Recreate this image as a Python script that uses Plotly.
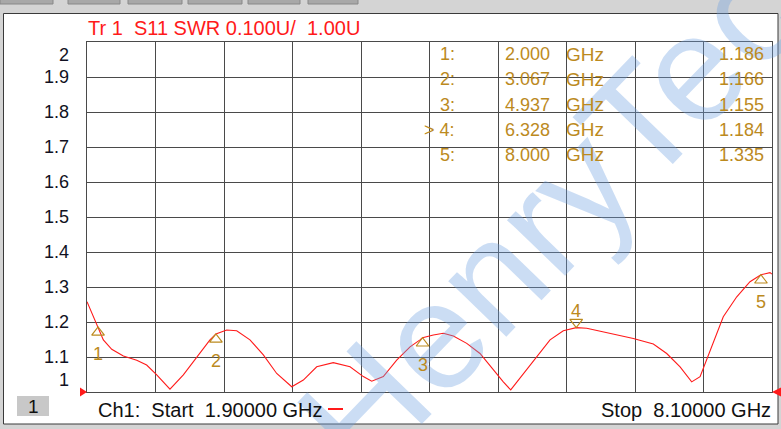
import plotly.graph_objects as go

# ---------------- data ----------------
freq_ghz = [1.900, 2.000, 2.048, 2.124, 2.229, 2.350, 2.440, 2.531, 2.651, 2.772,
            2.893, 3.013, 3.067, 3.164, 3.255, 3.375, 3.496, 3.617, 3.753, 3.858,
            3.979, 4.129, 4.281, 4.401, 4.477, 4.582, 4.703, 4.824, 4.914, 4.937,
            5.035, 5.125, 5.216, 5.337, 5.457, 5.578, 5.668, 5.735, 5.819, 5.970,
            6.091, 6.211, 6.328, 6.423, 6.604, 6.845, 7.026, 7.147, 7.268, 7.373,
            7.449, 7.540, 7.659, 7.781, 7.901, 8.000, 8.082, 8.100]
swr = [1.258, 1.186, 1.149, 1.122, 1.103, 1.091, 1.077, 1.049, 1.008, 1.049,
       1.101, 1.149, 1.166, 1.177, 1.175, 1.149, 1.106, 1.053, 1.015, 1.034,
       1.072, 1.084, 1.072, 1.044, 1.031, 1.044, 1.091, 1.129, 1.149, 1.155,
       1.163, 1.168, 1.160, 1.139, 1.110, 1.063, 1.029, 1.006, 1.039, 1.101,
       1.149, 1.175, 1.184, 1.182, 1.170, 1.153, 1.137, 1.110, 1.072, 1.029,
       1.044, 1.120, 1.215, 1.272, 1.315, 1.335, 1.341, 1.337]

marker_ids = ["1", "2", "3", "4", "5"]
marker_freq = [2.000, 3.067, 4.937, 6.328, 8.000]
marker_swr = [1.186, 1.166, 1.155, 1.184, 1.335]
active_marker = "4"

y_ticks = [1.0, 1.1, 1.2, 1.3, 1.4, 1.5, 1.6, 1.7, 1.8, 1.9, 2.0]
y_tick_labels = ["1", "1.1", "1.2", "1.3", "1.4", "1.5", "1.6", "1.7", "1.8", "1.9", "2"]

f_start, f_stop, n_div = 1.9, 8.1, 10

title_text = "Tr 1  S11 SWR 0.100U/  1.00U"
start_text = "Ch1:  Start  1.90000 GHz"
stop_text = "Stop  8.10000 GHz"
watermark_text = "HenryTech"

# ---------------- layout geometry (pixels) ----------------
W, H = 781, 429
L, R, T, B = 87, 9, 42, 37
PW, PH = W - L - R, H - T - B
FONT = "Liberation Sans, Arial, sans-serif"
GOLD = "#BC8A1E"
RED = "#FF1A1A"
GRID = "#4a4a4a"


def px(X):
    return (X - L) / PW


def py(Y):
    return (H - B - Y) / PH


def dx(X):
    return f_start + (f_stop - f_start) * px(X)


def dy(Y):
    return 1.0 + py(Y)


fig = go.Figure()

# trace
fig.add_trace(go.Scatter(x=freq_ghz, y=swr, mode="lines",
                         line=dict(color=RED, width=1.1), hoverinfo="skip"))

# marker triangles (apex at the marker point)
tri_dy = 5.5 / PH
up_x, up_y, dn_x, dn_y = [], [], [], []
for mid, f, v in zip(marker_ids, marker_freq, marker_swr):
    if mid == active_marker:
        dn_x.append(f); dn_y.append(v + tri_dy)
    else:
        up_x.append(f); up_y.append(v - tri_dy)
fig.add_trace(go.Scatter(x=up_x, y=up_y, mode="markers",
                         marker=dict(symbol="triangle-up-open", size=11,
                                     color=GOLD, line=dict(width=1.2, color=GOLD)),
                         hoverinfo="skip", cliponaxis=False))
fig.add_trace(go.Scatter(x=dn_x, y=dn_y, mode="markers",
                         marker=dict(symbol="triangle-down-open", size=11,
                                     color=GOLD, line=dict(width=1.2, color=GOLD)),
                         hoverinfo="skip", cliponaxis=False))

annotations = []
# watermark (data referenced so it is not pushed back inside the paper)
annotations.append(dict(x=dx(578), y=dy(186), xref="x", yref="y", text=watermark_text,
                        showarrow=False, textangle=-46,
                        font=dict(family=FONT, size=152, color="rgba(110,160,225,0.36)")))

# marker number labels
for mid, f, v in zip(marker_ids, marker_freq, marker_swr):
    shift = 17 if mid == active_marker else -27
    annotations.append(dict(x=f, y=v, xref="x", yref="y", text=mid, showarrow=False,
                            yshift=shift, font=dict(family=FONT, size=18, color=GOLD)))

# y tick labels
for val, lab in zip(y_ticks, y_tick_labels):
    ys = 0
    if val == 2.0:
        ys = -13
    elif val == 1.0:
        ys = 12
    annotations.append(dict(x=px(71), y=val, xref="paper", yref="y", text=lab,
                            showarrow=False, xanchor="right", yanchor="middle", yshift=ys,
                            font=dict(family=FONT, size=18, color="#111122")))

# title
annotations.append(dict(x=px(86), y=py(28), xref="paper", yref="paper", text=title_text,
                        showarrow=False, xanchor="left", yanchor="middle",
                        font=dict(family=FONT, size=20, color=RED)))

# marker table
for i, (mid, f, v) in enumerate(zip(marker_ids, marker_freq, marker_swr)):
    Y = 54.5 + 25 * i
    lab = ("> " if mid == active_marker else "") + mid + ":"
    annotations.append(dict(x=px(457), y=py(Y), xref="paper", yref="paper", text=lab,
                            showarrow=False, xanchor="right", yanchor="middle",
                            font=dict(family=FONT, size=18, color=GOLD)))
    annotations.append(dict(x=px(503), y=py(Y), xref="paper", yref="paper",
                            text=f"{f:.3f}", showarrow=False, xanchor="left",
                            yanchor="middle", font=dict(family=FONT, size=18, color=GOLD)))
    annotations.append(dict(x=px(564), y=py(Y), xref="paper", yref="paper", text="GHz",
                            showarrow=False, xanchor="left", yanchor="middle",
                            font=dict(family=FONT, size=19, color=GOLD)))
    annotations.append(dict(x=px(766), y=py(Y), xref="paper", yref="paper",
                            text=f"{v:.3f}", showarrow=False, xanchor="right",
                            yanchor="middle", font=dict(family=FONT, size=18, color=GOLD)))

# footer
annotations.append(dict(x=px(96), y=py(410), xref="paper", yref="paper", text=start_text,
                        showarrow=False, xanchor="left", yanchor="middle",
                        font=dict(family=FONT, size=20, color="#111111")))
annotations.append(dict(x=px(773), y=py(410), xref="paper", yref="paper", text=stop_text,
                        showarrow=False, xanchor="right", yanchor="middle",
                        font=dict(family=FONT, size=20, color="#111111")))
annotations.append(dict(x=px(33), y=py(406), xref="paper", yref="paper", text="1",
                        showarrow=False, xanchor="center", yanchor="middle",
                        font=dict(family=FONT, size=19, color="#111111")))

shapes = [
    # white panel
    dict(type="rect", xref="paper", yref="paper", x0=px(3.5), x1=px(778), y0=py(424), y1=py(13.5),
         fillcolor="white", line=dict(color="#3a3a3a", width=1), layer="below"),
    # channel number box
    dict(type="rect", xref="paper", yref="paper", x0=px(17), x1=px(49), y0=py(416), y1=py(396),
         fillcolor="#c8c8c8", line=dict(width=0), layer="below"),
    # red dash after start frequency
    dict(type="line", xref="paper", yref="paper", x0=px(328), x1=px(343), y0=py(409), y1=py(409),
         line=dict(color=RED, width=2)),
    # reference level arrows
    dict(type="path", xref="paper", yref="paper",
         path=f"M {px(80)} {py(387.5)} L {px(87)} {py(392)} L {px(80)} {py(396.5)} Z",
         fillcolor=RED, line=dict(color=RED, width=0)),
    dict(type="path", xref="paper", yref="paper",
         path=f"M {px(781)} {py(387.5)} L {px(772)} {py(392)} L {px(781)} {py(396.5)} Z",
         fillcolor=RED, line=dict(color=RED, width=0)),
]
# toolbar button bottoms
for x0, x1 in [(0, 53), (68, 120), (128, 182), (188, 242), (248, 300), (308, 358)]:
    shapes.append(dict(type="rect", xref="paper", yref="paper", x0=px(x0), x1=px(x1),
                       y0=py(4), y1=py(-2), fillcolor="#a8a8a8",
                       line=dict(color="#888888", width=1), layer="below"))

x_grid = [f_start + (f_stop - f_start) * i / n_div for i in range(n_div + 1)]

fig.update_layout(
    width=W, height=H, autosize=False,
    margin=dict(l=L, r=R, t=T, b=B, pad=0),
    paper_bgcolor="#d4d4d4", plot_bgcolor="white",
    showlegend=False,
    annotations=annotations, shapes=shapes,
    xaxis=dict(range=[f_start, f_stop], tickvals=x_grid, showticklabels=False, ticks="",
               showgrid=True, gridcolor=GRID, gridwidth=1, zeroline=False,
               showline=True, linecolor=GRID, linewidth=1, mirror=True, fixedrange=True),
    yaxis=dict(range=[1.0, 2.0], tickvals=y_ticks, showticklabels=False, ticks="",
               showgrid=True, gridcolor=GRID, gridwidth=1, zeroline=False,
               showline=True, linecolor=GRID, linewidth=1, mirror=True, fixedrange=True),
)

fig.write_html("out.html", config={"displayModeBar": False},
               post_script="document.body.style.margin='0';document.body.style.overflow='hidden';")
